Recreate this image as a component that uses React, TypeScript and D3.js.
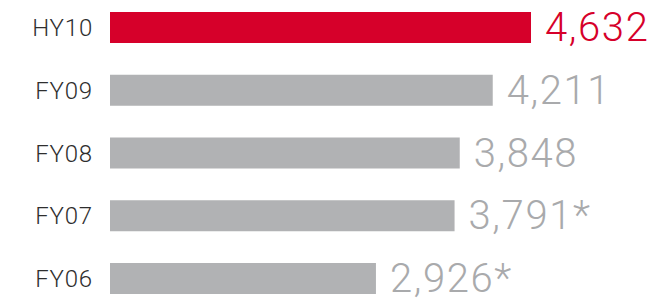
import React from 'react'
import * as d3 from 'd3'

const categories = ['HY10', 'FY09', 'FY08', 'FY07', 'FY06']
const values = [4632, 4211, 3848, 3791, 2926]
const footnoted = [false, false, false, true, true]

const width = 666
const height = 299
const red = '#d6002a'
const grey = '#b1b2b4'
const greyText = '#a9aaac'

const App = () => {
  const y = d3
    .scaleBand<string>()
    .domain(categories)
    .range([12, 294])
    .paddingInner(0.506)
    .paddingOuter(0)
  const x = d3
    .scaleLinear()
    .domain([0, d3.max(values) as number])
    .range([110, 531])
  const fmt = d3.format(',')

  return (
    <svg
      width={width}
      height={height}
      style={{position: 'absolute', left: 0, top: 0, background: '#fff'}}
      fontFamily="Roboto, 'Liberation Sans', Arial, sans-serif"
    >
      {categories.map((c, i) => {
        const top = y(c) as number
        const mid = top + y.bandwidth() / 2
        const isFirst = i === 0
        return (
          <g key={c}>
            <text
              x={93}
              y={mid + 8.5}
              textAnchor="end"
              fontSize={24}
              fontWeight={300}
              letterSpacing={0.8}
              fill="#2e2e2e"
            >
              {c}
            </text>
            <rect
              x={x(0)}
              y={top}
              width={x(values[i]) - x(0)}
              height={y.bandwidth()}
              fill={isFirst ? red : grey}
            />
            <text
              x={x(values[i]) + 14}
              y={mid + 13.5}
              fontSize={40}
              fontWeight={300}
              letterSpacing={1.6}
              fill={isFirst ? red : greyText}
            >
              {fmt(values[i]) + (footnoted[i] ? '*' : '')}
            </text>
          </g>
        )
      })}
    </svg>
  )
}

export default App
